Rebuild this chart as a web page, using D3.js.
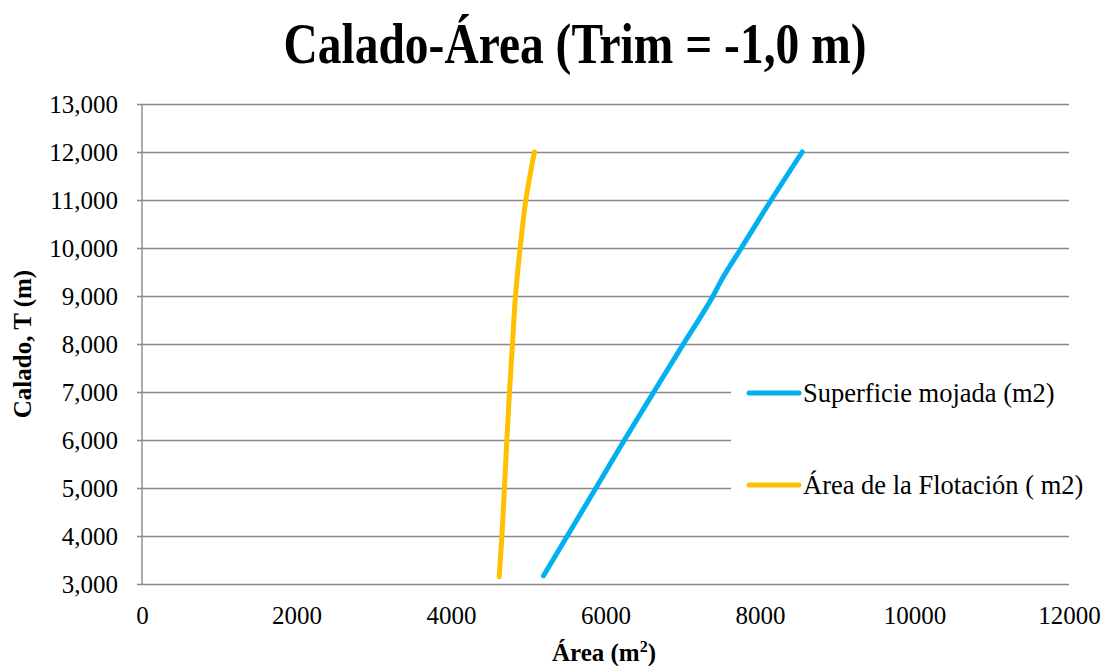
<!DOCTYPE html>
<html>
<head>
<meta charset="utf-8">
<script src="https://cdn.jsdelivr.net/npm/d3@7"></script>
<style>
  html, body { margin: 0; padding: 0; background: #fff; }
  svg { display: block; }
  svg text { font-family: "Liberation Serif", "DejaVu Serif", "Times New Roman", serif; fill: #000; }
</style>
</head>
<body>
<svg id="chart" width="1105" height="666"></svg>
<script>
// Calado (m) vs. área (m²), trim = -1,0 m
const drafts = [3.17, 4, 5, 6, 7, 8, 9, 9.3, 10, 11, 12];
const wettedSurface = [5197, 5505, 5876, 6245, 6625, 7008, 7392, 7490, 7758, 8145, 8547];
const flotationDrafts = [3.15, 4, 5, 6, 7, 8, 9, 10, 11, 12];
const flotationArea = [4624, 4659, 4692, 4723, 4757, 4796, 4835, 4895, 4969, 5080];

const xTicks = [0, 2000, 4000, 6000, 8000, 10000, 12000];
const yTicks = [3, 4, 5, 6, 7, 8, 9, 10, 11, 12, 13];

const seriesNames = ["Superficie mojada (m2)", "Área de la Flotación ( m2)"];
const seriesColors = ["#00B0F0", "#FFC000"];

const svg = d3.select("#chart");
const plot = { left: 142, right: 1069, top: 104, bottom: 584 };

const x = d3.scaleLinear().domain([0, 12000]).range([plot.left, plot.right]);
const y = d3.scaleLinear().domain([3, 13]).range([plot.bottom, plot.top]);

const fmtY = d => d3.format(".3f")(d).replace(".", ",");

// Horizontal gridlines with short ticks on the left
const yAxis = d3.axisLeft(y).tickValues(yTicks).tickFormat(fmtY)
  .tickSize(-(plot.right - plot.left)).tickPadding(24);
const gy = svg.append("g").attr("transform", `translate(${plot.left},0)`).call(yAxis);
gy.attr("font-family", null);
gy.select(".domain").remove();
gy.selectAll(".tick line").attr("stroke", "#898989").attr("stroke-width", 1.4).attr("x1", -5);
gy.selectAll(".tick text").attr("font-size", 25).attr("x", -24);

// Vertical axis line
svg.append("line")
  .attr("x1", plot.left).attr("x2", plot.left)
  .attr("y1", y(13)).attr("y2", y(3))
  .attr("stroke", "#898989").attr("stroke-width", 1.4);

// X axis labels
const xAxis = d3.axisBottom(x).tickValues(xTicks).tickFormat(d3.format("d")).tickSize(0).tickPadding(22);
const gx = svg.append("g").attr("transform", `translate(0,${plot.bottom})`).call(xAxis);
gx.attr("font-family", null);
gx.select(".domain").remove();
gx.selectAll(".tick text").attr("font-size", 25);

// Legend background hides the gridlines behind it
const legend = svg.append("g");
legend.append("rect")
  .attr("x", 731).attr("y", 356).attr("width", 374).attr("height", 170)
  .attr("fill", "#fff");

// Series lines
const line = d3.line().curve(d3.curveMonotoneY);
const seriesData = [
  d3.zip(wettedSurface, drafts),
  d3.zip(flotationArea, flotationDrafts)
];
seriesData.forEach((pts, i) => {
  svg.append("path")
    .attr("d", line(pts.map(([a, t]) => [x(a), y(t)])))
    .attr("fill", "none")
    .attr("stroke", seriesColors[i])
    .attr("stroke-width", 5)
    .attr("stroke-linecap", "round")
    .attr("stroke-linejoin", "round");
});

// Legend entries
const legendY = [393, 485];
seriesNames.forEach((name, i) => {
  legend.append("line")
    .attr("x1", 749).attr("x2", 799)
    .attr("y1", legendY[i]).attr("y2", legendY[i])
    .attr("stroke", seriesColors[i]).attr("stroke-width", 5)
    .attr("stroke-linecap", "round");
  legend.append("text")
    .attr("x", 803).attr("y", legendY[i] + 9)
    .attr("font-size", 26.5)
    .text(name);
});

// Title
svg.append("text")
  .attr("x", 575).attr("y", 63)
  .attr("text-anchor", "middle")
  .attr("font-size", 56).attr("font-weight", "bold")
  .attr("textLength", 583).attr("lengthAdjust", "spacingAndGlyphs")
  .text("Calado-Área (Trim = -1,0 m)");

// Axis titles
const xTitle = svg.append("text")
  .attr("x", 604).attr("y", 661)
  .attr("text-anchor", "middle")
  .attr("font-size", 25).attr("font-weight", "bold");
xTitle.append("tspan").text("Área (m");
xTitle.append("tspan").attr("font-size", 16).attr("dy", -9).text("2");
xTitle.append("tspan").attr("dy", 9).text(")");

svg.append("text")
  .attr("transform", "translate(31,344) rotate(-90)")
  .attr("text-anchor", "middle")
  .attr("font-size", 25).attr("font-weight", "bold")
  .text("Calado, T (m)");
</script>
</body>
</html>
